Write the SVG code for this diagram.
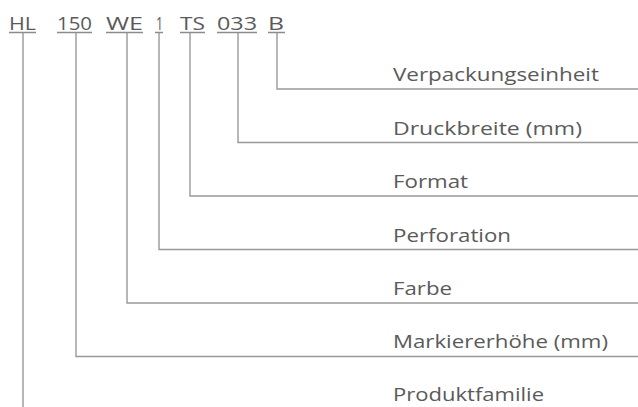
<svg xmlns="http://www.w3.org/2000/svg" width="638" height="407" viewBox="0 0 638 407">
<style>
.t{font-family:"Open Sans","Noto Sans","Liberation Sans",sans-serif;font-size:18.5px;fill:#5a5a5a}
.u{stroke:#8c8c8c;stroke-width:1.4;fill:none}
.l{stroke:#999;stroke-width:1.4;fill:none}
</style>
<rect width="638" height="407" fill="#fff"/>
<g id="code">
<text class="t" x="9" y="29.5" textLength="27" lengthAdjust="spacingAndGlyphs">HL</text>
<text class="t" x="57" y="29.5" textLength="35" lengthAdjust="spacingAndGlyphs">150</text>
<text class="t" x="106" y="29.5" textLength="37" lengthAdjust="spacingAndGlyphs">WE</text>
<text class="t" x="156" y="29.5" textLength="7" lengthAdjust="spacingAndGlyphs">1</text>
<text class="t" x="180" y="29.5" textLength="25" lengthAdjust="spacingAndGlyphs">TS</text>
<text class="t" x="217" y="29.5" textLength="40" lengthAdjust="spacingAndGlyphs">033</text>
<text class="t" x="268" y="29.5" textLength="16" lengthAdjust="spacingAndGlyphs">B</text>
<path class="u" d="M9 32.5H36M57 32.5H92M106 32.5H143M155 32.5H163M180 32.5H205M217 32.5H257M268 32.5H285"/>
</g>
<g id="connectors">
<path class="l" d="M277 33V89H638"/>
<path class="l" d="M238 33V142.5H638"/>
<path class="l" d="M190 33V196H638"/>
<path class="l" d="M159 33V249.5H638"/>
<path class="l" d="M127 33V303H638"/>
<path class="l" d="M76 33V356.5H638"/>
<path class="l" d="M23 33V407"/>
</g>
<g id="n1"><text class="t" x="393" y="81" textLength="206" lengthAdjust="spacingAndGlyphs">Verpackungseinheit</text></g>
<g id="n2"><text class="t" x="393" y="134.5" textLength="189" lengthAdjust="spacingAndGlyphs">Druckbreite (mm)</text></g>
<g id="n3"><text class="t" x="393" y="188" textLength="75" lengthAdjust="spacingAndGlyphs">Format</text></g>
<g id="n4"><text class="t" x="393" y="241.5" textLength="118" lengthAdjust="spacingAndGlyphs">Perforation</text></g>
<g id="n5"><text class="t" x="393" y="295" textLength="59" lengthAdjust="spacingAndGlyphs">Farbe</text></g>
<g id="n6"><text class="t" x="393" y="348" textLength="215" lengthAdjust="spacingAndGlyphs">Markiererhöhe (mm)</text></g>
<g id="n7"><text class="t" x="393" y="401" textLength="151" lengthAdjust="spacingAndGlyphs">Produktfamilie</text></g>
</svg>
